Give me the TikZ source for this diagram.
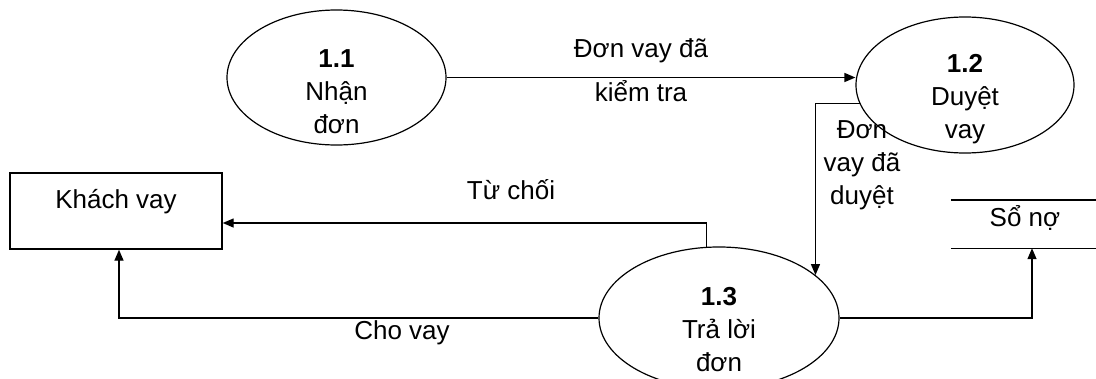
\documentclass[tikz,border=0pt]{standalone}
\usepackage{fontspec}
\setmainfont{Liberation Sans}
\usetikzlibrary{shapes.geometric,arrows.meta,calc}
\begin{document}
\begin{tikzpicture}[x=1pt,y=-1pt,
  proc/.style={draw,ellipse,line width=1.2pt,inner sep=0pt},
  txt/.style={align=center,inner sep=0pt,font=\fontsize{26pt}{33pt}\selectfont},
  flow/.style={line width=1.4pt,-{Triangle[length=11pt,width=9pt]}},
  ent/.style={draw,line width=1.4pt,minimum width=212pt,minimum height=76pt,inner sep=0pt}]
\useasboundingbox (0,0) rectangle (1096,378);
\fill[white] (0,0) rectangle (1096,378);
% processes
\node[proc,minimum width=219pt,minimum height=135pt] (p11) at (336.5,77.5) {};
\node[txt] (t11) at (336.5,92) {\textbf{1.1}\\Nhận\\đơn};
\node[proc,minimum width=218pt,minimum height=136pt] (p12) at (965,85) {};
\node[txt] (t12) at (965,99) {\textbf{1.2}\\Duyệt\\vay};
\node[proc,minimum width=240pt,minimum height=142pt] (p13) at (719,318) {};
\node[txt] (t13) at (719,330) {\textbf{1.3}\\Trả lời\\đơn};
% external entity
\node[ent] (kv) at (116,211) {};
\node[txt] (tkv) at (116,202) {Khách vay};
% data store
\node[minimum width=146pt,minimum height=48pt,inner sep=0pt] (sn) at (1024,224) {};
\node[txt] (tsn) at (1025,218) {Sổ nợ};
\draw[line width=1.4pt] (sn.north west) -- (sn.north east);
\draw[line width=1.4pt] (sn.south west) -- (sn.south east);
% flows
\draw[flow] (p11.east) -- (p11.east -| p12.west);
\node[txt] (l1) at (641,70) {Đơn vay đã\\[11pt]kiểm tra};
\draw[flow] (p12.190) -| (p13.24);
\node[txt] (l2) at (862,165) {Đơn\\vay đã\\duyệt};
\draw[flow] (p13.100) |- ([yshift=-12pt]kv.east);
\node[txt] (l3) at (511,190) {Từ chối};
\draw[flow] (p13.west) -| ([xshift=3pt]kv.south);
\node[txt] (l4) at (402,333) {Cho vay};
\draw[flow] (p13.east) -| ([xshift=8pt]sn.south);
\end{tikzpicture}
\end{document}
